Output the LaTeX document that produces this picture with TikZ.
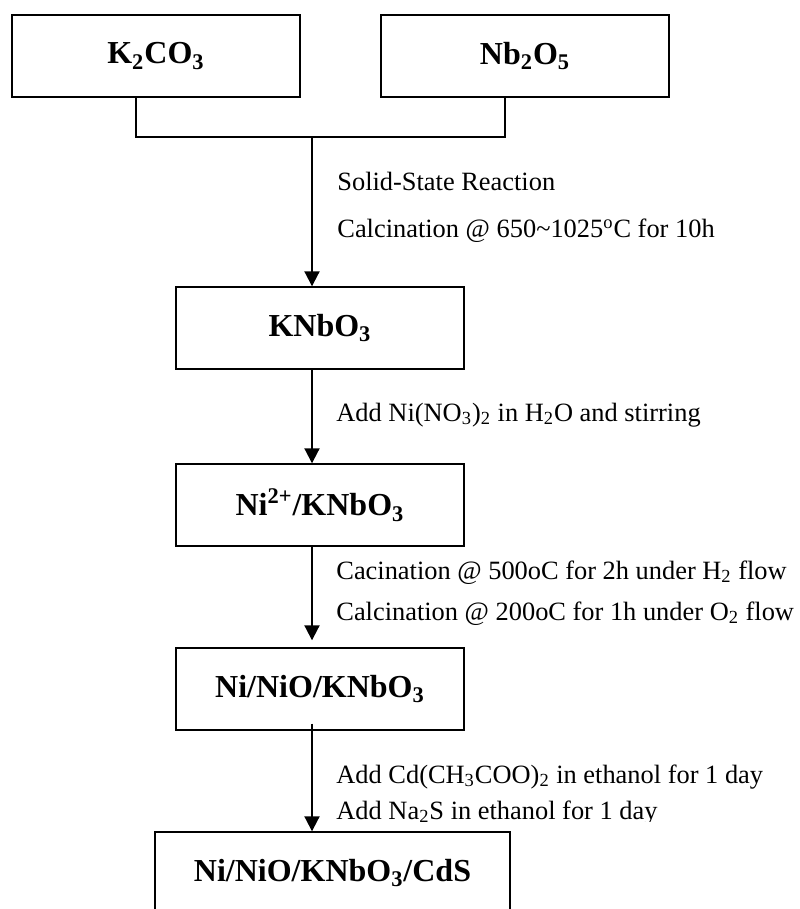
\documentclass[tikz,border=0pt]{standalone}
\usepackage{fontspec}
\setmainfont{Liberation Serif}
\usetikzlibrary{arrows.meta}

\begin{document}
\begin{tikzpicture}[x=0.5pt, y=-0.5pt,
    main/.style = {draw, line width=0.7pt, rectangle, minimum width=144pt, minimum height=41pt, inner sep=0pt, font=\fontsize{16}{19}\selectfont\bfseries},
    lbl/.style = {anchor=base west, inner sep=0pt, font=\fontsize{13.2}{15}\selectfont},
    arr/.style = {line width=1pt, -{Triangle[length=7.5pt, width=7.5pt]}}]
                \useasboundingbox (0, 0) rectangle (799, 909);
                \node[main] at (156, 56) (k2co3) {K\textsubscript{2}CO\textsubscript{3}};
                \node[main] at (525, 56) (nb2o5) {Nb\textsubscript{2}O\textsubscript{5}};
                \node[main] at (320, 328) (knbo3) {KNbO\textsubscript{3}};
                \node[main] at (320, 505) (ni) {Ni\textsuperscript{2+}/KNbO\textsubscript{3}};
                \node[main] at (320, 689) (ninio) {Ni/NiO/KNbO\textsubscript{3}};
                \node[main, minimum width=177.5pt] at (332.5, 873) (cds) {Ni/NiO/KNbO\textsubscript{3}/CdS};
                \coordinate (join) at (312, 137);

                \draw [line width=0.7pt] ([xshift=-10pt]k2co3.south) |- (join) -| ([xshift=-10pt]nb2o5.south);
                \draw [arr] (join) -- (join |- knbo3.north);

                \draw [arr] ([xshift=-4pt]knbo3.south) -- ([xshift=-4pt]ni.north);
                \draw [arr] ([xshift=-4pt]ni.south) -- ([xshift=-4pt, yshift=3.5pt]ninio.north);
                \draw [arr] ([xshift=-4pt, yshift=3.5pt]ninio.south) -- ([xshift=-4pt]ninio.south |- cds.north);

                \node[lbl] at (337, 191) (solid) {Solid-State Reaction};
                \node[lbl] at (337, 237) (calc) {Calcination @ 650\textasciitilde1025\textsuperscript{o}C for 10h};
                \node[lbl] at (336, 421) (addni) {Add Ni(NO\textsubscript{3})\textsubscript{2} in H\textsubscript{2}O and stirring};
                \node[lbl] at (336, 579) (hflow) {Cacination @ 500oC for 2h under H\textsubscript{2} flow};
                \node[lbl] at (336, 620) (oflow) {Calcination @ 200oC for 1h under O\textsubscript{2} flow};
                \node[lbl] at (336, 783) (addcd) {Add Cd(CH\textsubscript{3}COO)\textsubscript{2} in ethanol for 1 day};
                \begin{scope}
                \clip (0, 0) rectangle (799, 821);
                \node[lbl] at (336, 819) (addna) {Add Na\textsubscript{2}S in ethanol for 1 day};
                \end{scope}
            \end{tikzpicture}
\end{document}
